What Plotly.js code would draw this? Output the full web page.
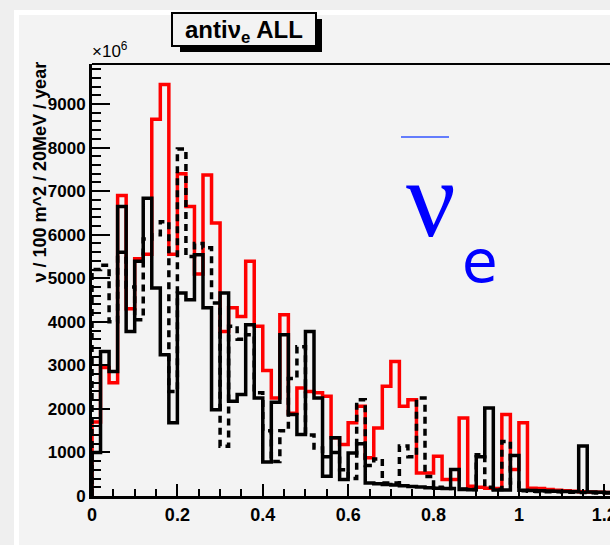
<!DOCTYPE html>
<html>
<head>
<meta charset="utf-8">
<script src="https://cdn.plot.ly/plotly-3.0.1.min.js"></script>
<style>
  html, body { margin: 0; padding: 0; width: 610px; height: 545px; overflow: hidden; background: #efefef; }
  #pad { position: absolute; left: 14px; top: 10px; width: 700px; height: 600px;
         border-left: 5px solid #ffffff; border-top: 5px solid #ffffff; background: #f3f3f3; }
  #chart { position: absolute; left: 0; top: 0; }
</style>
</head>
<body>
<div id="pad"></div>
<div id="chart"></div>
<script>
// Neutrino energy spectra, 20 MeV bins starting at 0 GeV
const binWidth = 0.02;

// red: total flux
const fluxRed = [1700,2950,2600,6900,4300,5450,5550,8650,9450,5550,
  7400,6650,5100,7370,6270,3780,4320,4120,5390,3900,
  2880,2250,4160,1900,2480,2400,2370,2290,1340,1180,
  1680,2060,880,1560,2520,3090,2060,2210,530,530,
  910,380,380,1790,225,200,180,170,1870,610,
  1680,180,170,150,130,120,110,100,90,85,
  80,75,70,65,60];

// black dashed
const fluxDashed = [5200,5300,4000,5600,4800,4050,5900,6000,6300,2400,
  7970,5500,5800,5700,4430,1140,3900,3600,3700,2370,
  1500,790,1500,2700,3430,1400,1100,900,1000,600,
  400,2210,700,850,300,300,1150,900,2250,450,
  200,180,170,160,150,950,200,150,1250,300,
  120,110,105,100,95,90,85,80,75,70,
  68,65,62,60,58];

// black solid
const fluxSolid = [1000,3320,2860,6650,3780,5390,6840,4775,3245,1680,
  4660,4507,5540,4320,1980,4660,2175,2330,3930,2250,
  780,2150,3700,1870,1410,3780,2250,455,1335,380,
  990,1200,300,280,265,250,235,220,205,190,
  180,170,610,150,145,900,2020,140,135,930,
  130,125,120,115,110,105,100,1150,90,85,
  80,75,70,65,60];

const xTickVals = [0, 0.2, 0.4, 0.6, 0.8, 1, 1.2];
const xTickText = ['0', '0.2', '0.4', '0.6', '0.8', '1', '1.2'];

// histogram outline: rises from the baseline at the first edge, steps across each bin
function outline(values) {
  const xs = [0], ys = [0];
  values.forEach((v, i) => { xs.push(i * binWidth); ys.push(v); });
  xs.push(values.length * binWidth); ys.push(values[values.length - 1]);
  return { x: xs, y: ys };
}

function histTrace(values, color, dash) {
  const o = outline(values);
  return {
    x: o.x, y: o.y, type: 'scatter', mode: 'lines',
    line: { shape: 'hv', color: color, width: 3.5, dash: dash },
    hoverinfo: 'skip', showlegend: false
  };
}

const W = 680, H = 545;
const M = { l: 92, r: 33, t: 64, b: 49 };
const plotW = W - M.l - M.r, plotH = H - M.t - M.b;
const px = v => (v - M.l) / plotW;          // page x pixel -> paper
const py = v => (H - M.b - v) / plotH;      // page y pixel -> paper

const bold = { family: 'Liberation Sans, Arial, sans-serif', weight: 'bold', color: '#000' };

const data = [
  histTrace(fluxRed, '#ff0000', 'solid'),
  histTrace(fluxDashed, '#000000', '7px,5px'),
  histTrace(fluxSolid, '#000000', 'solid')
];

const layout = {
  width: W, height: H,
  margin: { l: M.l, r: M.r, t: M.t, b: M.b, autoexpand: false },
  paper_bgcolor: 'rgba(0,0,0,0)',
  plot_bgcolor: 'rgba(0,0,0,0)',
  showlegend: false,
  xaxis: {
    range: [0, 1.3], showgrid: false, zeroline: false,
    showline: true, linewidth: 3, linecolor: '#000',
    ticks: 'inside', ticklen: 12, tickwidth: 2, tickcolor: '#000',
    tickvals: xTickVals, ticktext: xTickText,
    tickfont: Object.assign({ size: 18 }, bold),
    minor: { dtick: 0.05, tick0: 0, ticks: 'inside', ticklen: 7, tickwidth: 2, tickcolor: '#000' }
  },
  yaxis: {
    range: [0, 9920], showgrid: false, zeroline: false,
    showline: true, linewidth: 3, linecolor: '#000',
    ticks: 'inside', ticklen: 18, tickwidth: 2, tickcolor: '#000',
    dtick: 1000, tick0: 0, exponentformat: 'none', separatethousands: false,
    tickfont: Object.assign({ size: 17 }, bold),
    minor: { dtick: 200, tick0: 0, ticks: 'inside', ticklen: 9, tickwidth: 2, tickcolor: '#000' }
  },
  shapes: [
    // frame top edge
    { type: 'line', xref: 'paper', yref: 'paper', x0: 0, x1: 1, y0: 1, y1: 1,
      line: { color: '#000', width: 2 } },
    // title box shadow and box
    { type: 'rect', xref: 'paper', yref: 'paper', x0: px(180), x1: px(322), y0: py(52), y1: py(19),
      fillcolor: '#000', line: { width: 0 } },
    { type: 'rect', xref: 'paper', yref: 'paper', x0: px(172), x1: px(316), y0: py(46), y1: py(13),
      fillcolor: '#f3f3f3', line: { color: '#000', width: 2 } },
    // bar over the big nu
    { type: 'line', xref: 'paper', yref: 'paper', x0: px(401), x1: px(449), y0: py(137), y1: py(137),
      line: { color: '#3355ff', width: 1.5 } }
  ],
  annotations: [
    { xref: 'paper', yref: 'paper', x: px(244), y: py(31), xanchor: 'center', yanchor: 'middle',
      text: 'antiν<sub>e</sub> ALL', showarrow: false, font: Object.assign({ size: 24 }, bold) },
    { xref: 'paper', yref: 'paper', x: px(39), y: py(60), xanchor: 'center', yanchor: 'top',
      textangle: -90, text: 'ν / 100 m^2 / 20MeV / year', showarrow: false,
      font: Object.assign({ size: 18 }, bold) },
    { xref: 'paper', yref: 'paper', x: px(90), y: py(63), xanchor: 'left', yanchor: 'bottom',
      text: '×10<sup>6</sup>', showarrow: false,
      font: { family: 'Liberation Sans, Arial, sans-serif', size: 17, color: '#000' } },
    { xref: 'paper', yref: 'paper', x: px(431), y: py(199), xanchor: 'center', yanchor: 'middle',
      text: 'ν', showarrow: false,
      font: { family: 'Liberation Serif, Times New Roman, serif', size: 110, color: '#0000ff' } },
    { xref: 'paper', yref: 'paper', x: px(480), y: py(262), xanchor: 'center', yanchor: 'middle',
      text: 'e', showarrow: false,
      font: { family: 'DejaVu Sans, sans-serif', size: 58, color: '#0000ff' } }
  ]
};

Plotly.newPlot('chart', data, layout, { staticPlot: true, displayModeBar: false });
</script>
</body>
</html>
